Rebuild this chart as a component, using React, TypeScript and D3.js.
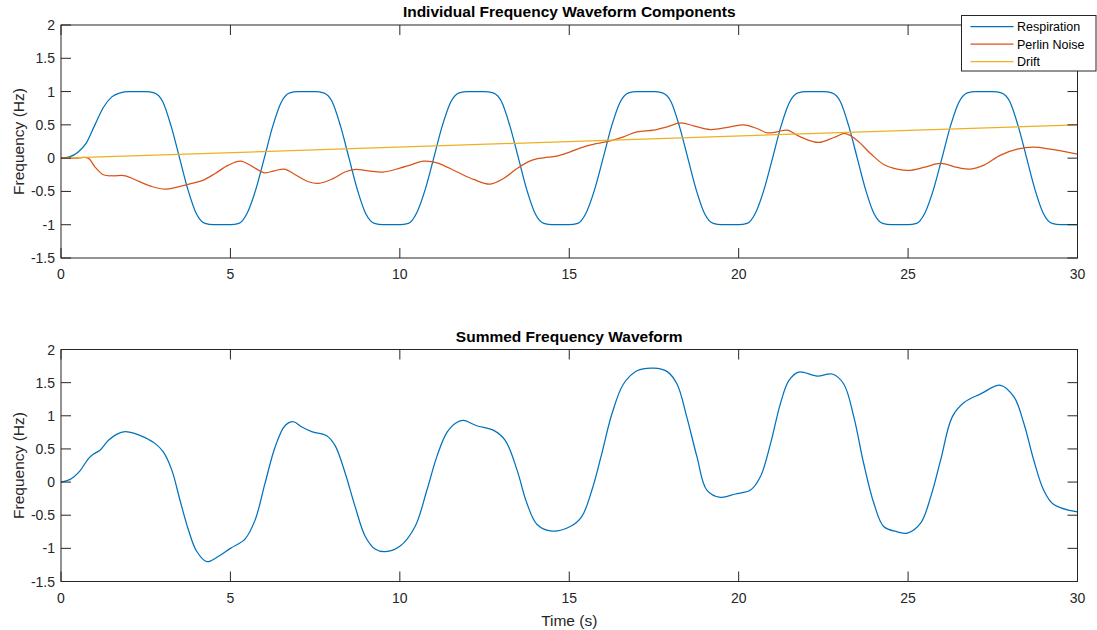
import React, { useRef, useEffect } from 'react';
import * as d3 from 'd3';

const width = 1097;
const height = 630;

const xTicks = [0, 5, 10, 15, 20, 25, 30];
const yTicks = [-1.5, -1, -0.5, 0, 0.5, 1, 1.5, 2];

// respiration, one value every 0.25 s (one row per 5 s breath)
const respTime = d3.range(0, 30.001, 0.25);
const respiration = [
  0, 0.02, 0.09, 0.23, 0.5, 0.76, 0.92, 0.98, 1, 1, 1, 0.98, 0.85, 0.48, 0, -0.48, -0.84, -0.98, -1, -1,
  -1, -0.98, -0.82, -0.47, 0, 0.48, 0.84, 0.98, 1, 1, 1, 0.98, 0.85, 0.48, 0, -0.48, -0.84, -0.98, -1, -1,
  -1, -0.98, -0.82, -0.47, 0, 0.48, 0.84, 0.98, 1, 1, 1, 0.98, 0.85, 0.48, 0, -0.48, -0.84, -0.98, -1, -1,
  -1, -0.98, -0.82, -0.47, 0, 0.48, 0.84, 0.98, 1, 1, 1, 0.98, 0.85, 0.48, 0, -0.48, -0.84, -0.98, -1, -1,
  -1, -0.98, -0.82, -0.47, 0, 0.48, 0.84, 0.98, 1, 1, 1, 0.98, 0.85, 0.48, 0, -0.48, -0.84, -0.98, -1, -1,
  -1, -0.98, -0.82, -0.47, 0, 0.48, 0.84, 0.98, 1, 1, 1, 0.98, 0.85, 0.48, 0, -0.48, -0.84, -0.98, -1, -1,
  -1,
];

const noiseTime = [
  0, 0.4, 0.8, 1.0, 1.25, 1.55, 1.9, 2.3, 2.7, 3.07, 3.46, 3.86, 4.2, 4.55, 4.94, 5.3, 5.63, 6.0, 6.3,
  6.6, 6.9, 7.3, 7.6, 8.0, 8.4, 8.7, 9.07, 9.5, 10.0, 10.3, 10.7, 11.1, 11.68, 12.18, 12.67, 13.06,
  13.46, 13.85, 14.24, 14.63, 15.03, 15.43, 15.82, 16.21, 16.6, 17.0, 17.49, 17.89, 18.3, 18.67, 19.16,
  19.75, 20.15, 20.54, 20.84, 21.13, 21.43, 21.82, 22.36, 22.81, 23.15, 23.49, 23.89, 24.28, 24.68,
  25.02, 25.46, 25.96, 26.45, 26.84, 27.24, 27.73, 28.22, 28.71, 29.2, 30,
];
const noise = [
  0, 0, 0, -0.13, -0.25, -0.265, -0.265, -0.35, -0.43, -0.465, -0.43, -0.38, -0.33, -0.23, -0.105,
  -0.045, -0.12, -0.22, -0.19, -0.165, -0.245, -0.355, -0.38, -0.315, -0.205, -0.17, -0.19, -0.21,
  -0.15, -0.105, -0.045, -0.07, -0.205, -0.32, -0.39, -0.305, -0.155, -0.04, 0.005, 0.03, 0.095, 0.17,
  0.22, 0.26, 0.32, 0.395, 0.42, 0.47, 0.53, 0.485, 0.43, 0.47, 0.5, 0.445, 0.38, 0.395, 0.42, 0.32,
  0.235, 0.31, 0.37, 0.27, 0.07, -0.095, -0.165, -0.185, -0.14, -0.08, -0.14, -0.165, -0.105, 0.045,
  0.135, 0.165, 0.135, 0.06,
];

const driftTime = [0, 30];
const drift = [0, 0.5];

const sumTime = [
  0, 0.27, 0.56, 0.81, 0.95, 1.15, 1.4, 1.64, 1.89, 2.19, 2.48, 2.78, 3.02, 3.27, 3.51, 3.76, 4.0, 4.3,
  4.65, 5.0, 5.43, 5.73, 6.02, 6.32, 6.61, 6.86, 7.11, 7.4, 7.84, 8.09, 8.39, 8.68, 8.98, 9.27, 9.57,
  10.0, 10.45, 10.8, 11.09, 11.39, 11.68, 11.88, 12.27, 12.77, 13.11, 13.46, 13.75, 14.05, 14.49, 15.03,
  15.37, 15.67, 15.96, 16.26, 16.6, 17.0, 17.49, 17.88, 18.18, 18.47, 18.77, 19.06, 19.46, 19.9, 20.35,
  20.64, 20.94, 21.23, 21.48, 21.77, 22.32, 22.76, 23.1, 23.4, 23.69, 23.99, 24.28, 24.68, 24.98, 25.37,
  25.67, 25.96, 26.3, 26.65, 27.14, 27.73, 28.13, 28.42, 28.71, 29.0, 29.3, 30,
];
const summed = [
  0, 0.04, 0.17, 0.355, 0.42, 0.48, 0.63, 0.72, 0.76, 0.73, 0.67, 0.58, 0.455, 0.18, -0.27, -0.72,
  -1.04, -1.2, -1.12, -1.0, -0.86, -0.57, -0.02, 0.53, 0.85, 0.91, 0.83, 0.76, 0.7, 0.55, 0.13, -0.37,
  -0.82, -1.01, -1.05, -0.97, -0.67, -0.12, 0.38, 0.75, 0.9, 0.93, 0.85, 0.78, 0.63, 0.18, -0.32, -0.64,
  -0.74, -0.67, -0.52, -0.12, 0.43, 1.03, 1.48, 1.68, 1.72, 1.67, 1.48, 0.98, 0.38, -0.12, -0.23, -0.18,
  -0.12, 0.08, 0.58, 1.18, 1.53, 1.66, 1.6, 1.63, 1.48, 0.98, 0.28, -0.32, -0.67, -0.75, -0.77, -0.62,
  -0.22, 0.33, 0.98, 1.2, 1.33, 1.46, 1.28, 0.88, 0.33, -0.12, -0.34, -0.45,
];

const seriesNames = ['Respiration', 'Perlin Noise', 'Drift'];
const seriesColors = ['#0072BD', '#D95319', '#EDB120'];

const font = "'Liberation Sans', Arial, Helvetica, sans-serif";
const axisColor = '#262626';

const left = 61;
const right = 1077.5;

const App = () => {
  const svgRef = useRef(null);

  useEffect(() => {
    const svg = d3.select(svgRef.current);
    svg.selectAll('*').remove();

    const x = d3.scaleLinear().domain([0, 30]).range([left, right]);

    const drawPanel = (top, bottom, title, lines, xLabel) => {
      const y = d3.scaleLinear().domain([-1.5, 2]).range([bottom, top]);
      const g = svg.append('g');

      g.append('rect')
        .attr('x', left)
        .attr('y', top)
        .attr('width', right - left)
        .attr('height', bottom - top)
        .attr('fill', '#fff');

      lines.forEach((l) => {
        const line = d3
          .line()
          .x((d) => x(d[0]))
          .y((d) => y(d[1]))
          .curve(l.curve);
        g.append('path')
          .attr('d', line(l.t.map((t, i) => [t, l.v[i]])))
          .attr('fill', 'none')
          .attr('stroke', l.color)
          .attr('stroke-width', 1.25);
      });

      // box
      g.append('rect')
        .attr('x', left)
        .attr('y', top)
        .attr('width', right - left)
        .attr('height', bottom - top)
        .attr('fill', 'none')
        .attr('stroke', axisColor)
        .attr('stroke-width', 1);

      // ticks on all four sides, pointing in
      xTicks.forEach((t) => {
        g.append('line')
          .attr('x1', x(t)).attr('x2', x(t))
          .attr('y1', bottom).attr('y2', bottom - 10)
          .attr('stroke', axisColor);
        g.append('line')
          .attr('x1', x(t)).attr('x2', x(t))
          .attr('y1', top).attr('y2', top + 10)
          .attr('stroke', axisColor);
        g.append('text')
          .attr('x', x(t))
          .attr('y', bottom + 21)
          .attr('text-anchor', 'middle')
          .attr('font-size', 14)
          .attr('fill', axisColor)
          .text(String(t));
      });
      yTicks.forEach((v) => {
        g.append('line')
          .attr('x1', left).attr('x2', left + 10)
          .attr('y1', y(v)).attr('y2', y(v))
          .attr('stroke', axisColor);
        g.append('line')
          .attr('x1', right).attr('x2', right - 10)
          .attr('y1', y(v)).attr('y2', y(v))
          .attr('stroke', axisColor);
        g.append('text')
          .attr('x', left - 6)
          .attr('y', y(v) + 5)
          .attr('text-anchor', 'end')
          .attr('font-size', 14)
          .attr('fill', axisColor)
          .text(String(v));
      });

      g.append('text')
        .attr('x', (left + right) / 2)
        .attr('y', top - 8)
        .attr('text-anchor', 'middle')
        .attr('font-size', 15.5)
        .attr('font-weight', 'bold')
        .attr('fill', '#000')
        .text(title);

      g.append('text')
        .attr('transform', `translate(23.5,${(top + bottom) / 2}) rotate(-90)`)
        .attr('text-anchor', 'middle')
        .attr('font-size', 15.5)
        .attr('fill', axisColor)
        .text('Frequency (Hz)');

      if (xLabel) {
        g.append('text')
          .attr('x', (left + right) / 2)
          .attr('y', bottom + 44)
          .attr('text-anchor', 'middle')
          .attr('font-size', 15.5)
          .attr('fill', axisColor)
          .text(xLabel);
      }
    };

    drawPanel(25, 258, 'Individual Frequency Waveform Components', [
      { t: respTime, v: respiration, color: seriesColors[0], curve: d3.curveMonotoneX },
      { t: noiseTime, v: noise, color: seriesColors[1], curve: d3.curveCatmullRom.alpha(0.5) },
      { t: driftTime, v: drift, color: seriesColors[2], curve: d3.curveLinear },
    ]);

    drawPanel(349.5, 581.5, 'Summed Frequency Waveform', [
      { t: sumTime, v: summed, color: seriesColors[0], curve: d3.curveCatmullRom.alpha(0.5) },
    ], 'Time (s)');

    // legend
    const lg = svg.append('g');
    lg.append('rect')
      .attr('x', 961.5)
      .attr('y', 15.5)
      .attr('width', 134.5)
      .attr('height', 55.5)
      .attr('fill', '#fff')
      .attr('stroke', axisColor);
    seriesNames.forEach((name, i) => {
      const cy = 26.7 + i * 17.5;
      lg.append('line')
        .attr('x1', 970.5).attr('x2', 1013.5)
        .attr('y1', cy).attr('y2', cy)
        .attr('stroke', seriesColors[i])
        .attr('stroke-width', 1.25);
      lg.append('text')
        .attr('x', 1017)
        .attr('y', cy + 4.5)
        .attr('font-size', 12.5)
        .attr('fill', '#000')
        .text(name);
    });
  }, []);

  return (
    <svg
      ref={svgRef}
      width={width}
      height={height}
      style={{ position: 'absolute', left: 0, top: 0, background: '#fff', fontFamily: font }}
    />
  );
};

export default App;
